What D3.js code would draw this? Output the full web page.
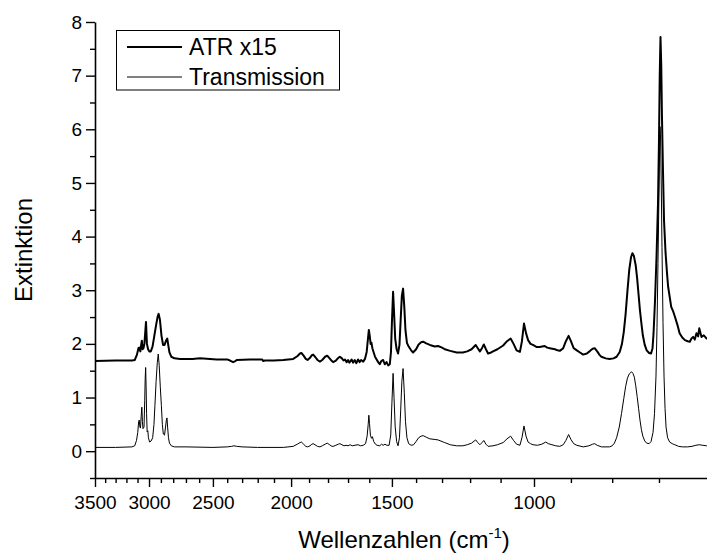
<!DOCTYPE html>
<html>
<head>
<meta charset="utf-8">
<script src="https://cdn.jsdelivr.net/npm/d3@7"></script>
<style>
  html, body { margin: 0; padding: 0; background: #fff; }
  svg { display: block; overflow: hidden; }
  text { font-family: "Liberation Sans", Arial, sans-serif; fill: #000; }
</style>
</head>
<body>
<svg id="chart" width="707" height="556"></svg>
<script>
// IR spectra: [wavenumber in cm^-1, extinction]
const atrSpectrum = [
  [3500,1.68],[3300,1.69],[3150,1.69],[3124,1.70],[3105,1.80],[3092,1.92],[3085,1.93],[3075,1.86],[3068,1.98],[3062,2.06],
  [3055,1.90],[3048,1.92],[3040,2.00],[3033,2.20],[3026,2.41],[3018,2.00],[3008,1.90],[2998,1.86],[2985,1.86],[2970,1.95],
  [2955,2.15],[2940,2.35],[2928,2.50],[2919,2.56],[2908,2.45],[2895,2.15],[2882,1.98],[2870,1.98],[2858,2.06],[2848,2.10],
  [2840,1.98],[2830,1.84],[2815,1.76],[2790,1.73],[2746,1.72],[2650,1.72],[2594,1.73],[2473,1.71],[2400,1.71],[2381,1.69],
  [2360,1.66],[2345,1.68],[2336,1.70],[2250,1.71],[2172,1.71],[2166,1.68],[2155,1.69],[2100,1.69],[2045,1.70],[1988,1.72],
  [1965,1.77],[1950,1.82],[1942,1.83],[1930,1.78],[1918,1.72],[1908,1.70],[1895,1.74],[1885,1.79],[1878,1.80],[1868,1.76],
  [1855,1.70],[1842,1.67],[1830,1.70],[1815,1.76],[1804,1.78],[1792,1.73],[1780,1.68],[1774,1.66],[1760,1.69],[1748,1.74],
  [1740,1.76],[1730,1.73],[1722,1.69],[1715,1.71],[1707,1.66],[1700,1.70],[1694,1.65],[1688,1.68],[1683,1.71],[1676,1.65],
  [1668,1.70],[1660,1.64],[1652,1.71],[1645,1.66],[1638,1.70],[1628,1.67],[1620,1.72],[1612,1.85],[1606,2.10],[1602,2.26],
  [1598,2.15],[1594,2.00],[1590,2.02],[1586,1.92],[1580,1.84],[1574,1.76],[1567,1.71],[1560,1.66],[1553,1.62],[1546,1.68],
  [1538,1.70],[1531,1.62],[1523,1.66],[1516,1.60],[1509,1.62],[1504,1.85],[1500,2.40],[1495,2.97],[1491,2.60],[1486,2.10],
  [1480,1.90],[1474,1.82],[1468,1.98],[1463,2.45],[1458,2.90],[1453,3.03],[1448,2.70],[1443,2.25],[1437,2.02],[1430,1.95],
  [1420,1.88],[1412,1.84],[1400,1.90],[1390,1.99],[1380,2.03],[1372,2.04],[1360,2.01],[1346,1.98],[1327,1.95],[1315,1.96],
  [1300,1.93],[1290,1.90],[1270,1.87],[1247,1.84],[1225,1.84],[1210,1.86],[1195,1.90],[1181,1.98],[1174,1.92],[1167,1.86],
  [1160,1.92],[1154,1.99],[1147,1.90],[1140,1.82],[1130,1.84],[1124,1.86],[1110,1.90],[1092,1.97],[1080,2.05],[1069,2.10],
  [1060,2.00],[1051,1.88],[1041,1.85],[1035,2.05],[1029,2.38],[1023,2.20],[1017,2.07],[1010,2.00],[1003,1.98],[992,1.94],
  [984,1.94],[977,1.95],[970,1.96],[963,1.93],[956,1.92],[949,1.91],[942,1.90],[935,1.88],[929,1.87],[920,1.92],
  [913,2.05],[906,2.15],[900,2.05],[893,1.92],[885,1.88],[877,1.84],[869,1.80],[860,1.82],[852,1.87],[846,1.91],
  [841,1.92],[835,1.86],[829,1.79],[825,1.76],[815,1.73],[806,1.72],[797,1.73],[790,1.76],[783,1.85],[778,2.00],
  [774,2.22],[770,2.55],[766,2.98],[762,3.38],[758,3.62],[755,3.69],[752,3.64],[748,3.46],[745,3.22],[742,2.92],
  [739,2.62],[736,2.38],[733,2.16],[729,1.98],[725,1.88],[720,1.83],[716,1.82],[713,1.92],[711,2.19],[708,2.80],
  [705,3.60],[702,4.60],[700,5.80],[698.5,7.00],[697,7.72],[695.5,7.20],[694,6.20],[692,5.20],[690,4.30],[687,3.70],
  [684,3.30],[682,3.07],[679,2.88],[676,2.69],[672,2.60],[669,2.51],[664,2.35],[660,2.20],[655,2.12],[650,2.07],
  [645,2.05],[641,2.04],[638,2.10],[635,2.13],[632,2.08],[629,2.20],[626,2.14],[624,2.29],[620,2.13],[616,2.16],
  [611,2.10],[600,2.08]
];

const transmissionSpectrum = [
  [3500,0.07],[3300,0.07],[3150,0.08],[3125,0.10],[3109,0.20],[3098,0.35],[3090,0.55],[3085,0.58],[3079,0.45],[3074,0.43],
  [3068,0.65],[3062,0.82],[3057,0.55],[3052,0.42],[3043,0.45],[3037,0.95],[3033,1.35],[3029,1.56],[3025,1.20],[3021,0.70],
  [3016,0.36],[3010,0.38],[3005,0.25],[2995,0.17],[2982,0.19],[2969,0.25],[2958,0.50],[2950,0.85],[2940,1.30],[2930,1.65],
  [2922,1.81],[2914,1.60],[2905,1.20],[2896,0.85],[2888,0.50],[2880,0.32],[2870,0.30],[2862,0.45],[2855,0.58],[2850,0.62],
  [2845,0.45],[2838,0.25],[2830,0.15],[2815,0.10],[2790,0.08],[2700,0.08],[2500,0.07],[2400,0.08],[2370,0.09],[2355,0.10],
  [2336,0.09],[2300,0.08],[2200,0.07],[2045,0.07],[1988,0.09],[1965,0.13],[1950,0.16],[1942,0.17],[1930,0.13],[1918,0.09],
  [1908,0.08],[1895,0.10],[1885,0.13],[1878,0.14],[1868,0.12],[1855,0.09],[1842,0.08],[1830,0.10],[1815,0.13],[1804,0.15],
  [1792,0.12],[1780,0.09],[1774,0.09],[1760,0.11],[1748,0.13],[1740,0.14],[1730,0.12],[1720,0.10],[1710,0.11],[1700,0.10],
  [1690,0.12],[1680,0.10],[1667,0.11],[1652,0.12],[1640,0.10],[1628,0.11],[1617,0.14],[1610,0.28],[1605,0.50],[1602,0.67],
  [1599,0.52],[1595,0.30],[1590,0.24],[1586,0.27],[1580,0.18],[1572,0.13],[1565,0.11],[1553,0.10],[1545,0.13],[1538,0.11],
  [1530,0.13],[1522,0.11],[1512,0.11],[1505,0.30],[1500,0.90],[1495,1.45],[1491,1.00],[1486,0.45],[1480,0.18],[1474,0.10],
  [1468,0.25],[1463,0.75],[1458,1.30],[1453,1.54],[1448,1.10],[1443,0.55],[1437,0.25],[1430,0.14],[1420,0.11],[1410,0.12],
  [1400,0.18],[1390,0.25],[1380,0.28],[1372,0.29],[1360,0.26],[1346,0.23],[1330,0.22],[1315,0.21],[1300,0.18],[1290,0.16],
  [1270,0.12],[1247,0.10],[1225,0.10],[1210,0.12],[1195,0.15],[1181,0.21],[1174,0.16],[1167,0.12],[1160,0.16],[1154,0.20],
  [1147,0.13],[1140,0.09],[1124,0.10],[1110,0.12],[1092,0.16],[1080,0.23],[1069,0.28],[1060,0.20],[1051,0.13],[1041,0.11],
  [1035,0.25],[1029,0.47],[1023,0.28],[1017,0.17],[1010,0.14],[1003,0.12],[990,0.11],[978,0.13],[967,0.17],[960,0.14],
  [950,0.12],[940,0.10],[929,0.09],[920,0.12],[913,0.20],[906,0.31],[900,0.22],[893,0.14],[885,0.11],[869,0.08],
  [855,0.10],[846,0.13],[841,0.14],[835,0.11],[825,0.08],[806,0.08],[800,0.10],[795,0.15],[790,0.25],[784,0.45],
  [779,0.70],[774,0.98],[770,1.20],[766,1.36],[762,1.44],[757,1.48],[754,1.45],[751,1.38],[748,1.22],[745,1.02],
  [742,0.80],[739,0.58],[736,0.40],[733,0.28],[729,0.19],[725,0.15],[720,0.14],[716,0.18],[712,0.35],[709,0.70],
  [706,1.40],[704,2.30],[702,3.50],[700,4.80],[698.5,5.80],[698,6.05],[697,5.90],[695.5,5.00],[694,3.80],[692,2.40],
  [690,1.40],[688,0.80],[686,0.45],[683,0.25],[679,0.17],[674,0.14],[669,0.12],[662,0.09],[655,0.08],[645,0.08],
  [637,0.09],[630,0.11],[624,0.12],[618,0.11],[611,0.10],[600,0.10]
];

const seriesNames = ["ATR x15", "Transmission"];
const xTickLabels = [3500, 3000, 2500, 2000, 1500, 1000];
const yTickLabels = [0, 1, 2, 3, 4, 5, 6, 7, 8];

const svg = d3.select("#chart");
const plotLeft = 95, plotRight = 713, plotTop = 22, plotBottom = 478;

const x = d3.scaleLog().domain([3500, 600]).range([plotLeft, plotRight]);
const y = d3.scaleLinear().domain([-0.5, 8]).range([plotBottom, plotTop]);

// minor ticks every 100 cm^-1, every 0.5 extinction units
const xMinor = d3.range(3400, 650, -100).filter(v => !xTickLabels.includes(v));
const yMinor = d3.range(-0.5, 8, 1);

function styleAxis(g) {
  g.selectAll("path.domain").attr("stroke", "#000").attr("stroke-width", 1.6);
  g.selectAll(".tick line").attr("stroke", "#000").attr("stroke-width", 1.4);
  g.selectAll(".tick text").attr("fill", "#000")
    .style("font-family", '"Liberation Sans", Arial, sans-serif').style("font-size", "19px");
}

// x axis
const gxMinor = svg.append("g").attr("transform", `translate(0,${plotBottom})`)
  .call(d3.axisBottom(x).tickValues(xMinor).tickSize(5).tickFormat(""));
gxMinor.select("path.domain").remove();
styleAxis(gxMinor);
const gx = svg.append("g").attr("transform", `translate(0,${plotBottom})`)
  .call(d3.axisBottom(x).tickValues(xTickLabels).tickSize(9).tickSizeOuter(0).tickPadding(9).tickFormat(d3.format("d")));
styleAxis(gx);

// y axis
const gyMinor = svg.append("g").attr("transform", `translate(${plotLeft},0)`)
  .call(d3.axisLeft(y).tickValues(yMinor).tickSize(5).tickFormat(""));
gyMinor.select("path.domain").remove();
styleAxis(gyMinor);
const gy = svg.append("g").attr("transform", `translate(${plotLeft},0)`)
  .call(d3.axisLeft(y).tickValues(yTickLabels).tickSize(9).tickSizeOuter(0).tickPadding(4).tickFormat(d3.format("d")));
styleAxis(gy);

// spectra
const line = d3.line().x(d => x(d[0])).y(d => y(d[1]));
svg.append("path").datum(transmissionSpectrum)
  .attr("d", line).attr("fill", "none").attr("stroke", "#000").attr("stroke-width", 1)
  .attr("stroke-linejoin", "round");
svg.append("path").datum(atrSpectrum)
  .attr("d", line).attr("fill", "none").attr("stroke", "#000").attr("stroke-width", 2)
  .attr("stroke-linejoin", "round");

// axis titles
const xt = svg.append("text").attr("x", (plotLeft + plotRight) / 2).attr("y", 548)
  .attr("text-anchor", "middle").style("font-size", "24px");
xt.append("tspan").text("Wellenzahlen (cm");
xt.append("tspan").attr("dy", -10).style("font-size", "15px").text("-1");
xt.append("tspan").attr("dy", 10).text(")");

svg.append("text").attr("transform", `translate(32,${(plotTop + plotBottom) / 2}) rotate(-90)`)
  .attr("text-anchor", "middle").style("font-size", "24px").text("Extinktion");

// legend
const legend = svg.append("g");
legend.append("rect").attr("x", 116.5).attr("y", 30.5).attr("width", 223).attr("height", 59.5)
  .attr("fill", "#fff").attr("stroke", "#000").attr("stroke-width", 1);
const widths = [2, 1];
seriesNames.forEach((name, i) => {
  const cy = 47 + i * 30;
  legend.append("line").attr("x1", 127).attr("x2", 182).attr("y1", cy).attr("y2", cy)
    .attr("stroke", "#000").attr("stroke-width", widths[i]);
  legend.append("text").attr("x", 189).attr("y", cy + 8).style("font-size", "23px").text(name);
});
</script>
</body>
</html>
